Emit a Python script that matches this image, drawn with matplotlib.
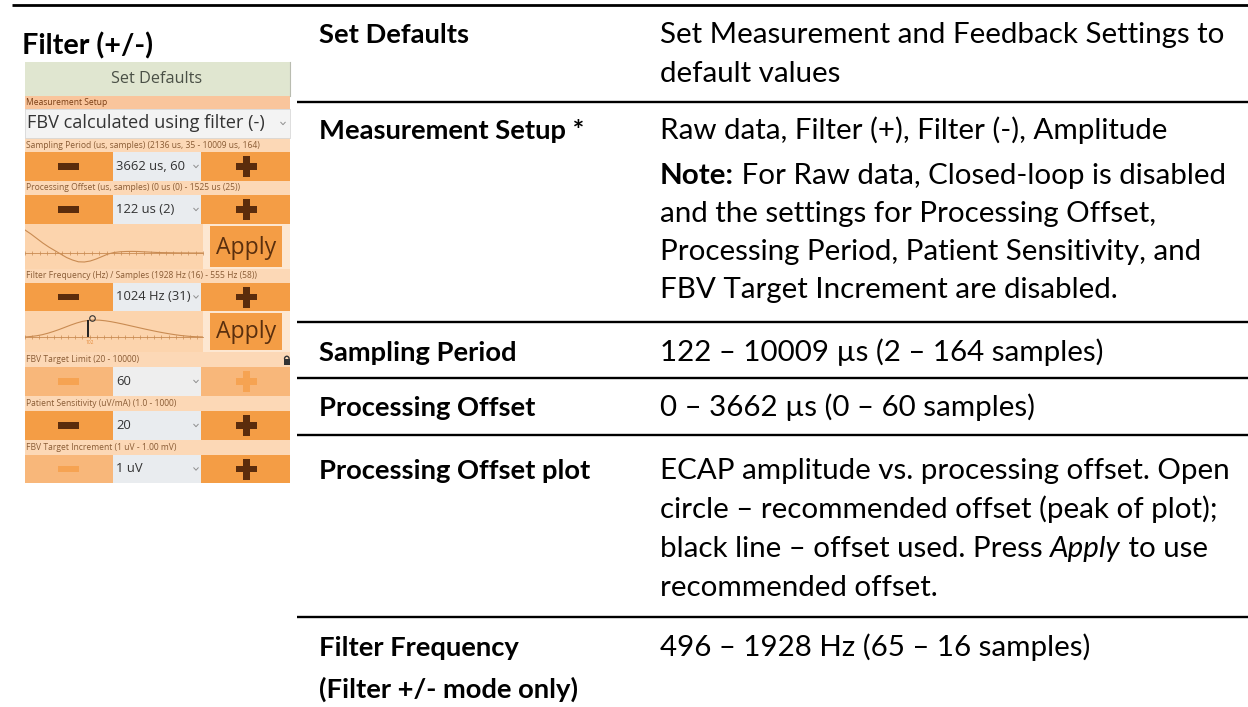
import matplotlib
matplotlib.use("Agg")
import matplotlib.pyplot as plt
from matplotlib.patches import Rectangle, Arc
from matplotlib.ticker import MultipleLocator

# ------------------------------------------------------------------ data
title_text = "Filter (+/-)"

table_labels = [
    ["Set Defaults"],
    ["Measurement Setup *"],
    ["Sampling Period"],
    ["Processing Offset"],
    ["Processing Offset plot"],
    ["Filter Frequency", "(Filter +/- mode only)"],
]

# each description line is a list of runs: (text, style)  n=normal b=bold i=italic
table_desc = [
    [[("Set Measurement and Feedback Settings to", "n")],
     [("default values", "n")]],
    [[("Raw data, Filter (+), Filter (-), Amplitude", "n")],
     [("Note:", "b"), (" For Raw data, Closed-loop is disabled", "n")],
     [("and the settings for Processing Offset,", "n")],
     [("Processing Period, Patient Sensitivity, and", "n")],
     [("FBV Target Increment are disabled.", "n")]],
    [[("122 \u2013 10009 \u00b5s (2 \u2013 164 samples)", "n")]],
    [[("0 \u2013 3662 \u00b5s (0 \u2013 60 samples)", "n")]],
    [[("ECAP amplitude vs. processing offset. Open", "n")],
     [("circle \u2013 recommended offset (peak of plot);", "n")],
     [("black line \u2013 offset used. Press ", "n"), ("Apply", "i"), (" to use", "n")],
     [("recommended offset.", "n")]],
    [[("496 \u2013 1928 Hz (65 \u2013 16 samples)", "n")]],
]

ui_header = "Set Defaults"
ui_labels = [
    "Measurement Setup",
    "Sampling Period (us, samples) (2136 us, 35 - 10009 us, 164)",
    "Processing Offset (us, samples) (0 us (0) - 1525 us (25))",
    "Filter Frequency (Hz) / Samples (1928 Hz (16) - 555 Hz (58))",
    "FBV Target Limit (20 - 10000)",
    "Patient Sensitivity (uV/mA) (1.0 - 1000)",
    "FBV Target Increment (1 uV - 1.00 mV)",
]
ui_values = ["FBV calculated using filter (-)", "3662 us, 60", "122 us (2)",
             "1024 Hz (31)", "60", "20", "1 uV"]
ui_minus_enabled = [None, True, True, True, False, True, False]
ui_plus_enabled = [None, True, True, True, False, True, True]
ui_button = "Apply"

# processing-offset plot (amplitude vs offset sample)
offset_samples = [0, 2, 4, 6, 8, 10, 12, 14, 16, 18, 20, 22, 24, 26, 28, 30,
                  32, 34, 36, 38, 40, 42, 44, 46, 48, 50, 52, 54, 56, 58, 60]
offset_amp = [23, 19, 14.5, 10, 6, 2.5, -1, -4.5, -7, -8.8, -9, -8, -6, -3.5, -1, 0.5,
              1.2, 1.5, 1.6, 1.5, 1.2, 0.9, 0.6, 0.4, 0.3, 0.2, 0.1, 0.1, 0, 0, 0]

# filter plot
filter_samples = [0, 2, 4, 6, 8, 10, 12, 14, 16, 18, 20, 22, 24, 26, 28, 30,
                  32, 34, 36, 38, 40, 42, 44, 46, 48, 50, 52, 54, 56, 58, 60, 62]
filter_amp = [0, 0.5, 1.2, 2.3, 3.8, 5.6, 7.6, 9.8, 12, 14, 15.6, 16.6, 17, 16.8, 16.2, 15.3,
              14.2, 13, 11.7, 10.4, 9.1, 7.8, 6.6, 5.4, 4.3, 3.3, 2.4, 1.6, 1.0, 0.5, 0.2, 0]
used_offset_sample = 22
used_offset_amp = 16.6
recommended_sample = 23.5
recommended_amp = 17.6
used_offset_label = "102"

# ------------------------------------------------------------------ figure
W, H, DPI = 1248, 707, 100
TF = "Lato"
UF = "Open Sans"

fig = plt.figure(figsize=(W / DPI, H / DPI), dpi=DPI)
fig.patch.set_facecolor("white")
ax = fig.add_axes([0, 0, 1, 1])
ax.set_xlim(0, W)
ax.set_ylim(H, 0)
ax.axis("off")
renderer = fig.canvas.get_renderer()


def text_w(s, **kw):
    t = ax.text(0, 0, s, **kw)
    w = t.get_window_extent(renderer).width
    t.remove()
    return w


def fit(s, target, **kw):
    return 20.0 * target / text_w(s, fontsize=20, **kw)


def adv(s, **kw):
    return text_w("|" + s + "|", **kw) - text_w("||", **kw)


STY = {"n": dict(weight="normal", style="normal"),
       "b": dict(weight="bold", style="normal"),
       "i": dict(weight="normal", style="italic")}


def draw_runs(x, y, runs, fs, family, color="black"):
    for s, st in runs:
        kw = dict(fontsize=fs, family=family, **STY[st])
        ax.text(x, y, s, va="baseline", ha="left", color=color, **kw)
        x += adv(s, **kw)


def rect(x0, y0, x1, y1, color, z=1):
    ax.add_patch(Rectangle((x0, y0), x1 - x0, y1 - y0, facecolor=color,
                           edgecolor="none", zorder=z))


# ------------------------------------------------------------------ table
ax.plot([12, W], [5, 5], color="black", lw=2.0, solid_capstyle="butt")
row_lines = [102, 322, 378, 435, 617]
for yl in row_lines:
    ax.plot([297, W], [yl, yl], color="black", lw=1.7, solid_capstyle="butt")

LX, RX = 319, 660
fs_r = fit("Set Measurement and Feedback Settings to", 565, family=TF)
fs_l = fit("Measurement Setup *", 266, family=TF, weight="bold")

desc_baselines = [[43, 82], [139, 184, 222, 260, 298], [361], [416],
                  [479, 518, 557, 596], [656]]
label_baselines = [[43], [139], [361], [416], [479], [656, 698]]

for labels, lb in zip(table_labels, label_baselines):
    for s, y in zip(labels, lb):
        ax.text(LX, y, s, fontsize=fs_l, family=TF, weight="bold",
                va="baseline", ha="left", color="black")
for lines, bl in zip(table_desc, desc_baselines):
    for runs, y in zip(lines, bl):
        draw_runs(RX, y, runs, fs_r, TF)

# title above the screenshot
fs_t = fit(title_text, 131, family=TF, weight="bold")
ax.text(22, 54, title_text, fontsize=fs_t, family=TF, weight="bold",
        va="baseline", ha="left", color="black")

# ------------------------------------------------------------------ UI screenshot
UX0, UX1 = 25, 290
BOX0, BOX1 = 113, 201
ORANGE = "#f49d45"
ORANGE_DIS = "#f8b77a"
GLYPH = "#5b2c0c"
GLYPH_DIS = "#f6a352"
LABEL_BG = "#fcd8b6"
LABEL_TXT = "#8a5c35"
BOX = "#e9ecef"
PLOT_BG = "#fcd4ad"
CREAM = "#fde7d1"
CURVE = "#c98b52"

fs_small = fit(ui_labels[1], 233, family=UF)
fs_val = fit(ui_values[1], 69, family=UF)
fs_apply = fit(ui_button, 60, family=UF)
fs_big = fit(ui_values[0], 238, family=UF)
fs_head = fit(ui_header, 91, family=UF)

# header
rect(UX0, 62, UX1, 96, "#e0e6d0")
ax.text(157, 79, ui_header, fontsize=fs_head, family=UF,
        color="#4a5046", ha="center", va="center")
ax.plot([UX1, UX1], [62, 96], color="#b9bcb0", lw=0.8)


def label_band(y0, y1, s, bg=LABEL_BG):
    rect(UX0, y0, UX1, y1, bg)
    ax.text(UX0 + 1, (y0 + y1) / 2, s, fontsize=fs_small, family=UF,
            color=LABEL_TXT, ha="left", va="center")


def chevron(x, yc, color="#8f8f8f"):
    ax.plot([x - 2.2, x, x + 2.2], [yc - 1.2, yc + 1.2, yc - 1.2], color=color, lw=0.7,
            zorder=4)


def control_row(y0, y1, value, minus_on, plus_on):
    yc = (y0 + y1) / 2
    lbg = ORANGE if minus_on else ORANGE_DIS
    rbg = ORANGE if plus_on else ORANGE_DIS
    rect(UX0, y0, BOX0, y1, lbg)
    rect(BOX0, y0, BOX1, y1, BOX if (minus_on or plus_on) else "#eeeeee")
    rect(BOX1, y0, UX1, y1, rbg)
    mc = GLYPH if minus_on else GLYPH_DIS
    pc = GLYPH if plus_on else GLYPH_DIS
    rect(58, yc - 3.3, 79, yc + 3.3, mc, z=2)
    rect(236, yc - 3.3, 257, yc + 3.3, pc, z=2)
    rect(243, yc - 10.5, 250, yc + 10.5, pc, z=2)
    ax.text(BOX0 + 3, yc, value, fontsize=fs_val, family=UF, color="#333333",
            ha="left", va="center", zorder=3)
    chevron(196, yc)


def apply_area(y0, y1, by0, by1):
    rect(UX0, y0, BOX1 + 2, y1, PLOT_BG)
    rect(BOX1 + 2, y0, UX1, y1, CREAM)
    rect(210, by0, 282, by1, ORANGE, z=2)
    ax.text(246, (by0 + by1) / 2 + 1, ui_button, fontsize=fs_apply, family=UF,
            color="#5a2f0e", ha="center", va="center", zorder=3)


# Measurement setup
rect(UX0, 96, UX1, 109, "#f9c59c")
ax.text(UX0 + 1, 102.5, ui_labels[0], fontsize=fs_small, family=UF,
        color="#7a3e14", ha="left", va="center")
rect(UX0, 109, UX1, 138, "#f3f3f3")
ax.plot([UX0, UX1, UX1, UX0, UX0], [109, 109, 138, 138, 109], color="#d8d8d8", lw=0.6)
ax.text(UX0 + 2, 123.5, ui_values[0], fontsize=fs_big, family=UF, color="#333333",
        ha="left", va="center")
chevron(283, 123.5)

# Sampling period
label_band(138, 152, ui_labels[1])
control_row(152, 181, ui_values[1], ui_minus_enabled[1], ui_plus_enabled[1])

# Processing offset
label_band(181, 195, ui_labels[2])
control_row(195, 224, ui_values[2], ui_minus_enabled[2], ui_plus_enabled[2])
apply_area(224, 269, 226, 267)


def inset(x0, y0, x1, y1):
    a = fig.add_axes([x0 / W, 1 - y1 / H, (x1 - x0) / W, (y1 - y0) / H])
    a.set_facecolor("none")
    for sp in ("top", "left", "right"):
        a.spines[sp].set_visible(False)
    a.spines["bottom"].set_position(("data", 0))
    a.spines["bottom"].set_color(CURVE)
    a.spines["bottom"].set_linewidth(0.6)
    a.set_yticks([])
    a.xaxis.set_major_locator(MultipleLocator(2.5))
    a.tick_params(axis="x", direction="inout", length=3.5, width=0.5,
                  color=CURVE, labelbottom=False)
    return a


ax_po = inset(UX0, 224, BOX1 + 2, 269)
ax_po.plot(offset_samples, offset_amp, color=CURVE, lw=0.8)
ax_po.set_xlim(0, 60)
ax_po.set_ylim(-16, 29)

# Filter frequency
label_band(269, 283, ui_labels[3])
control_row(283, 311, ui_values[3], ui_minus_enabled[3], ui_plus_enabled[3])
apply_area(311, 352, 313, 350)
ax_ff = inset(UX0, 311, BOX1 + 2, 352)
ax_ff.plot(filter_samples, filter_amp, color=CURVE, lw=0.8)
ax_ff.vlines(used_offset_sample, 0, used_offset_amp, color="#222222", lw=1.4)
ax_ff.plot([recommended_sample], [recommended_amp + 1.2], "o", mfc="none",
           mec="#333333", mew=0.8, ms=4)
ax_ff.text(used_offset_sample + 0.5, -2.5, used_offset_label, fontsize=3.5,
           color="#e48a3a", ha="center", va="top", family=UF)
ax_ff.set_xlim(0, 62)
ax_ff.set_ylim(-15, 26)

# FBV target limit
label_band(352, 367, ui_labels[4])
rect(283.5, 359, 290, 364.5, "#333333", z=3)
ax.add_patch(Arc((286.8, 359), 4.6, 5.5, theta1=180, theta2=360, color="#333333",
                 lw=1.0, zorder=3))
control_row(367, 396, ui_values[4], ui_minus_enabled[4], ui_plus_enabled[4])

# Patient sensitivity
label_band(396, 411, ui_labels[5])
control_row(411, 440, ui_values[5], ui_minus_enabled[5], ui_plus_enabled[5])

# FBV target increment
label_band(440, 455, ui_labels[6])
control_row(455, 483, ui_values[6], ui_minus_enabled[6], ui_plus_enabled[6])

fig.savefig("out.png", dpi=DPI, facecolor="white")
